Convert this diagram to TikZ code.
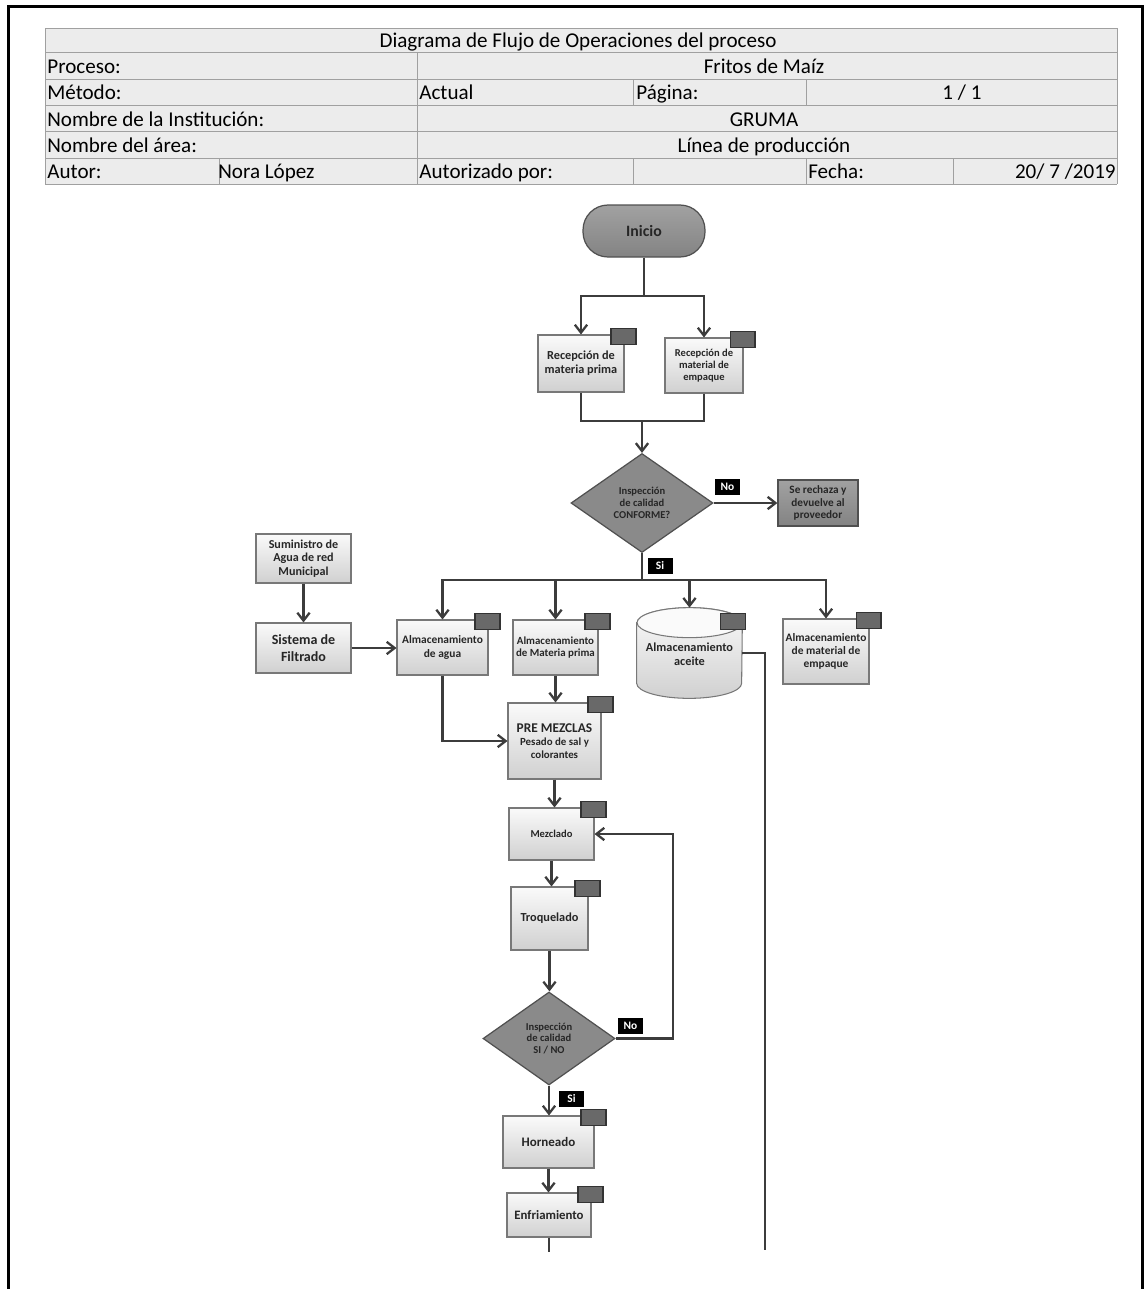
\documentclass[tikz,border=0pt]{standalone}
\usepackage{fontspec}
\setmainfont{Carlito}
\usepackage{tikz}
\usetikzlibrary{arrows.meta, shapes.geometric, backgrounds}
\definecolor{linegray}{RGB}{60,60,60}
\definecolor{boxline}{RGB}{120,120,120}
\definecolor{boxtop}{RGB}{250,250,250}
\definecolor{boxbot}{RGB}{208,208,208}
\definecolor{darkfill}{RGB}{138,138,138}
\definecolor{darkline}{RGB}{80,80,80}
\definecolor{tabfill}{RGB}{105,105,105}
\definecolor{cellfill}{RGB}{236,236,236}
\definecolor{cellline}{RGB}{160,160,160}

\begin{document}
\begin{tikzpicture}[x=0.02cm, y=-0.02cm,
    >={Straight Barb[length=4.5pt,width=7pt]},
    conn/.style={draw=linegray, line width=1.3pt},
    celltext/.style={anchor=base west, inner sep=0pt, font=\fontsize{12}{14}\selectfont},
    cellmid/.style={anchor=base, inner sep=0pt, font=\fontsize{12}{14}\selectfont},
    box/.style={draw=boxline, line width=0.6pt, top color=boxtop, bottom color=boxbot,
        align=center, inner sep=1pt, text=black!85, font=\fontsize{6.5}{7.5}\selectfont\bfseries},
    darkbox/.style={draw=darkline, line width=0.7pt, top color=darkfill!80, bottom color=darkfill!95!black,
        align=center, inner sep=1pt, text=black!85, font=\fontsize{6.4}{7.2}\selectfont\bfseries},
    dmd/.style={diamond, draw=darkline, line width=0.7pt, fill=darkfill, align=center, inner sep=0pt,
        text=black!85, font=\fontsize{6}{6.8}\selectfont\bfseries},
    tabbox/.style={draw=black!80, fill=tabfill, minimum width=0.5cm, minimum height=0.32cm,
        inner sep=0pt, line width=0.6pt},
    lab/.style={fill=black, text=white, minimum width=0.5cm, minimum height=0.32cm, inner sep=0pt,
        font=\fontsize{6.5}{7}\selectfont\bfseries}]

    \useasboundingbox (0,0) rectangle (1144,1289);

    % marco
    \draw[line width=0.06cm] (8.5,1289) -- (8.5,6.5) -- (1142.5,6.5) -- (1142.5,1289);

    % tabla de encabezado
    \fill[cellfill] (45,28) rectangle (1117,184);
    \foreach \yy in {28,52.5,79,105,131.5,158,184}
        \draw[cellline] (45,\yy) -- (1117,\yy);
    \foreach \xx/\ya/\yb in {45/28/184, 1117/28/184, 417/52.5/184, 633/79/105, 806/79/105,
            219/158/184, 633/158/184, 806/158/184, 953/158/184}
        \draw[cellline] (\xx,\ya) -- (\xx,\yb);

    \node[cellmid] (titulo) at (578,47) {Diagrama de Flujo de Operaciones del proceso};
    \node[celltext] (proc) at (47,73.5) {Proceso:};
    \node[cellmid] (procv) at (764,73.5) {Fritos de Maíz};
    \node[celltext] (met) at (47,99.5) {Método:};
    \node[celltext] (metv) at (419,99.5) {Actual};
    \node[celltext] (pag) at (636,99.5) {Página:};
    \node[cellmid] (pagv) at (962,99.5) {1 / 1};
    \node[celltext] (inst) at (47,126) {Nombre de la Institución:};
    \node[cellmid] (instv) at (764,126) {GRUMA};
    \node[celltext] (area) at (47,152.5) {Nombre del área:};
    \node[cellmid] (areav) at (764,152.5) {Línea de producción};
    \node[celltext] (aut) at (47,178.5) {Autor:};
    \node[celltext] (autv) at (218,178.5) {Nora López};
    \node[celltext] (autz) at (419,178.5) {Autorizado por:};
    \node[celltext] (fec) at (808,178.5) {Fecha:};
    \node[celltext, anchor=base east] (fecv) at (1116,178.5) {20/ 7 /2019};

    % inicio y recepcion
    \node[darkbox, rounded corners=0.5cm, minimum width=2.44cm, minimum height=1.04cm,
        font=\fontsize{9}{10}\selectfont\bfseries] (ini) at (644,231) {Inicio};
    \node[box, minimum width=1.72cm, minimum height=1.14cm, font=\fontsize{7}{8}\selectfont\bfseries]
        (rec1) at (581,363.5) {Recepción de\\materia prima};
    \node[box, minimum width=1.56cm, minimum height=1.1cm, font=\fontsize{6}{6.8}\selectfont\bfseries]
        (rec2) at (704,365.5) {Recepción de\\material de\\empaque};
    \node[dmd, minimum width=2.84cm, minimum height=1.98cm] (d1) at (642,503) {Inspección\\de calidad\\CONFORME?};
    \node[darkbox, minimum width=1.6cm, minimum height=0.92cm] (rej) at (818,503) {Se rechaza y\\devuelve al\\proveedor};

    % agua
    \node[box, minimum width=1.9cm, minimum height=0.98cm, font=\fontsize{6.9}{7.8}\selectfont\bfseries]
        (sumi) at (303.5,558.5) {Suministro de\\Agua de red\\Municipal};
    \node[box, minimum width=1.9cm, minimum height=1cm, font=\fontsize{8}{9.5}\selectfont\bfseries]
        (filt) at (303.5,648) {Sistema de\\Filtrado};

    % almacenamiento
    \node[box, minimum width=1.82cm, minimum height=1.1cm] (agua) at (442.5,647.5) {Almacenamiento\\de agua};
    \node[box, minimum width=1.7cm, minimum height=1.1cm, font=\fontsize{6.2}{7.2}\selectfont\bfseries]
        (mp) at (555.5,647.5) {Almacenamiento\\de Materia prima};
    \node[inner sep=0pt, minimum width=2.1cm, minimum height=1.8cm, align=center, text=black!85,
        font=\fontsize{7}{8}\selectfont\bfseries] (ace) at (689.5,653) {\\[-2pt]Almacenamiento\\aceite};
    \node[box, minimum width=1.72cm, minimum height=1.3cm] (emp) at (826,651.5) {Almacenamiento\\de material de\\empaque};

    \begin{scope}[on background layer]
        \shade[top color=boxtop, bottom color=boxbot, draw=boxline, line width=0.6pt]
            ([yshift=-0.3cm]ace.north west) -- ([yshift=0.3cm]ace.south west)
            arc[start angle=180, end angle=360, x radius=1.05cm, y radius=0.3cm]
            -- ([yshift=-0.3cm]ace.north east)
            arc[start angle=0, end angle=180, x radius=1.05cm, y radius=0.3cm] -- cycle;
        \draw[boxline, fill=boxtop, line width=0.6pt] ([yshift=-0.3cm]ace.north) ellipse [x radius=1.05cm, y radius=0.3cm];
    \end{scope}

    % proceso
    \node[box, minimum width=1.86cm, minimum height=1.52cm, font=\fontsize{6.2}{7.4}\selectfont\bfseries]
        (pre) at (554.5,741) {{\fontsize{7.6}{8.6}\selectfont PRE MEZCLAS}\\Pesado de sal y\\colorantes};
    \node[box, minimum width=1.7cm, minimum height=1.04cm, font=\fontsize{6}{7}\selectfont\bfseries]
        (mez) at (551.5,834) {Mezclado};
    \node[box, minimum width=1.54cm, minimum height=1.26cm, font=\fontsize{7}{8}\selectfont\bfseries]
        (troq) at (549.5,918.5) {Troquelado};
    \node[dmd, minimum width=2.64cm, minimum height=1.86cm] (d2) at (549,1038.5) {Inspección\\de calidad\\SI / NO};
    \node[box, minimum width=1.82cm, minimum height=1.04cm, font=\fontsize{7.4}{8.4}\selectfont\bfseries]
        (horn) at (548.5,1142) {Horneado};
    \node[box, minimum width=1.68cm, minimum height=0.88cm, font=\fontsize{7.3}{8.3}\selectfont\bfseries]
        (enf) at (549,1215) {Enfriamiento};

    % pestañas
    \foreach \n in {rec1,rec2,agua,mp,emp,pre,mez,troq,horn,enf}
        \node[tabbox] (\n-tab) at ([xshift=-0.02cm,yshift=-0.04cm]\n.north east) {};
    \node[tabbox] (ace-tab) at ([xshift=-0.19cm,yshift=-0.28cm]ace.north east) {};

    % etiquetas
    \node[lab] (no1) at (727.5,486.5) {No};
    \node[lab] (si1) at (660,566) {Si};
    \node[lab] (no2) at (630.5,1025.5) {No};
    \node[lab] (si2) at (571.5,1098.5) {Si};

    % conectores
    \coordinate (split) at (644,296);
    \coordinate (merge) at (642,421);
    \coordinate (bus) at (642,580);
    \coordinate (loop) at (673,833);
    \coordinate (oilend) at (765,1250);
    \coordinate (fin) at (549,1252);

    \draw[conn] (ini.south) -- (split);
    \draw[conn,->] (split) -| (rec1.north);
    \draw[conn,->] (split) -| (rec2.north);
    \draw[conn] (rec1.south) |- (merge);
    \draw[conn] (rec2.south) |- (merge);
    \draw[conn,->] (merge) -- (d1.north);
    \draw[conn,->] (d1.east) -- (rej.west);

    \draw[conn] (d1.south) -- (bus);
    \foreach \n in {agua,mp,emp}
        \draw[conn,->] (bus) -| (\n.north);
    \draw[conn,->] (bus) -| (ace.north);

    \draw[conn,->] (sumi.south) -- (filt.north);
    \draw[conn,->] (filt.east) -- (filt.east -| agua.west);
    \draw[conn,->] (agua.south) |- (pre.west);
    \draw[conn,->] (mp.south) -- (mp.south |- pre.north);
    \draw[conn] (ace.east) -| (oilend);

    \draw[conn,->] (pre.south) -- (pre.south |- mez.north);
    \draw[conn,->] (mez.south) -- (mez.south |- troq.north);
    \draw[conn,->] (troq.south) -- (troq.south |- d2.north);
    \draw[conn,->] (d2.east) -| (loop |- mez.east) -- (mez.east);
    \draw[conn,->] (d2.south) -- (d2.south |- horn.north);
    \draw[conn,->] (horn.south) -- (horn.south |- enf.north);
    \draw[conn] (enf.south) -- (enf.south |- fin);
\end{tikzpicture}
\end{document}
